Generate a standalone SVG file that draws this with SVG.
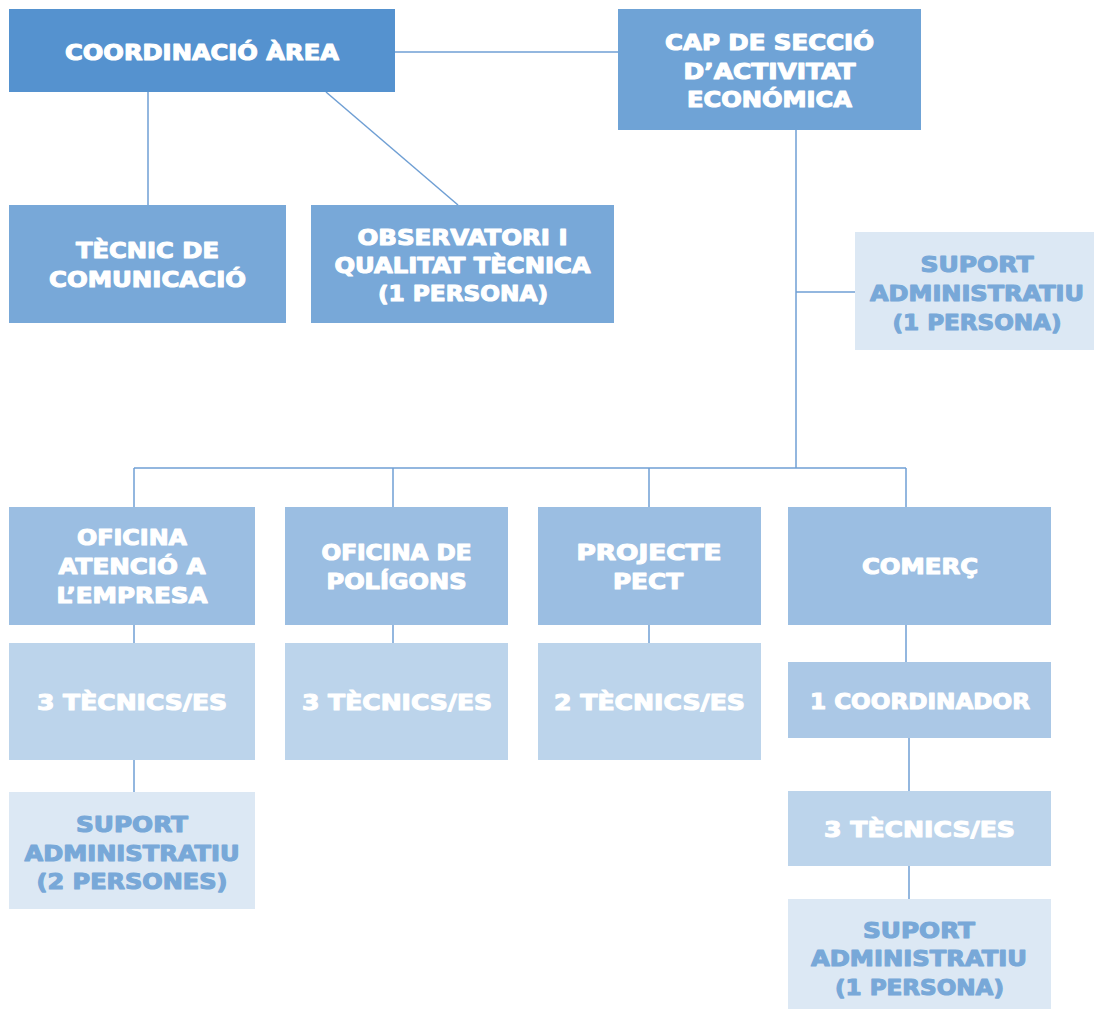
<svg xmlns="http://www.w3.org/2000/svg" width="1094" height="1010" viewBox="0 0 1094 1010">
<style>
text{font-family:"DejaVu Sans","Liberation Sans",sans-serif;font-weight:bold;font-size:21px;text-anchor:middle;fill:#ffffff;stroke:#ffffff;stroke-width:1.1;stroke-linejoin:round}
.light text{fill:#78a8d8;stroke:#78a8d8}
.conn line{stroke:#6f9fd4;stroke-width:1.5;fill:none}
</style>
<rect width="1094" height="1010" fill="#ffffff"/>
<g class="conn" id="connectors">
<line x1="395" y1="52" x2="618" y2="52"/>
<line x1="148" y1="92" x2="148" y2="205"/>
<line x1="326" y1="92" x2="458" y2="205"/>
<line x1="796" y1="130" x2="796" y2="468"/>
<line x1="796" y1="292" x2="855" y2="292"/>
<line x1="134" y1="468" x2="906" y2="468"/>
<line x1="134" y1="468" x2="134" y2="507"/>
<line x1="393" y1="468" x2="393" y2="507"/>
<line x1="649" y1="468" x2="649" y2="507"/>
<line x1="906" y1="468" x2="906" y2="507"/>
<line x1="134" y1="625" x2="134" y2="643"/>
<line x1="134" y1="760" x2="134" y2="792"/>
<line x1="393" y1="625" x2="393" y2="643"/>
<line x1="649" y1="625" x2="649" y2="643"/>
<line x1="906" y1="625" x2="906" y2="662"/>
<line x1="909" y1="738" x2="909" y2="791"/>
<line x1="909" y1="866" x2="909" y2="899"/>
</g>
<g id="coordinacio">
<rect x="9" y="9" width="386" height="83" fill="#5592cf"/>
<text x="202" y="60" textLength="274" lengthAdjust="spacingAndGlyphs">COORDINACIÓ ÀREA</text>
</g>
<g id="cap">
<rect x="618" y="9" width="303" height="121" fill="#6fa3d6"/>
<text x="769.5" y="50" textLength="209" lengthAdjust="spacingAndGlyphs">CAP DE SECCIÓ</text>
<text x="769.5" y="79" textLength="172" lengthAdjust="spacingAndGlyphs">D’ACTIVITAT</text>
<text x="769.5" y="107" textLength="165" lengthAdjust="spacingAndGlyphs">ECONÓMICA</text>
</g>
<g id="tecnic-comunicacio">
<rect x="9" y="205" width="277" height="118" fill="#78a8d8"/>
<text x="147.5" y="258" textLength="143" lengthAdjust="spacingAndGlyphs">TÈCNIC DE</text>
<text x="147.5" y="287" textLength="197" lengthAdjust="spacingAndGlyphs">COMUNICACIÓ</text>
</g>
<g id="observatori">
<rect x="311" y="205" width="303" height="118" fill="#78a8d8"/>
<text x="462.5" y="245" textLength="210" lengthAdjust="spacingAndGlyphs">OBSERVATORI I</text>
<text x="462.5" y="273" textLength="256" lengthAdjust="spacingAndGlyphs">QUALITAT TÈCNICA</text>
<text x="463" y="301" textLength="170" lengthAdjust="spacingAndGlyphs">(1 PERSONA)</text>
</g>
<g id="suport-cap" class="light">
<rect x="855" y="232" width="239" height="118" fill="#dce8f4"/>
<text x="977" y="272" textLength="113" lengthAdjust="spacingAndGlyphs">SUPORT</text>
<text x="977" y="301" textLength="214" lengthAdjust="spacingAndGlyphs">ADMINISTRATIU</text>
<text x="977" y="330" textLength="169" lengthAdjust="spacingAndGlyphs">(1 PERSONA)</text>
</g>
<g id="oficina-empresa">
<rect x="9" y="507" width="246" height="118" fill="#9bbee2"/>
<text x="132" y="545" textLength="110" lengthAdjust="spacingAndGlyphs">OFICINA</text>
<text x="132" y="574" textLength="147" lengthAdjust="spacingAndGlyphs">ATENCIÓ A</text>
<text x="132" y="603" textLength="151" lengthAdjust="spacingAndGlyphs">L’EMPRESA</text>
</g>
<g id="oficina-poligons">
<rect x="285" y="507" width="223" height="118" fill="#9bbee2"/>
<text x="396.5" y="560" textLength="150" lengthAdjust="spacingAndGlyphs">OFICINA DE</text>
<text x="396.5" y="589" textLength="140" lengthAdjust="spacingAndGlyphs">POLÍGONS</text>
</g>
<g id="projecte-pect">
<rect x="538" y="507" width="223" height="118" fill="#9bbee2"/>
<text x="649" y="560" textLength="145" lengthAdjust="spacingAndGlyphs">PROJECTE</text>
<text x="648" y="589" textLength="70" lengthAdjust="spacingAndGlyphs">PECT</text>
</g>
<g id="comerc">
<rect x="788" y="507" width="263" height="118" fill="#9bbee2"/>
<text x="920" y="574" textLength="116" lengthAdjust="spacingAndGlyphs">COMERÇ</text>
</g>
<g id="tecnics-empresa">
<rect x="9" y="643" width="246" height="117" fill="#bcd4eb"/>
<text x="132" y="710" textLength="190" lengthAdjust="spacingAndGlyphs">3 TÈCNICS/ES</text>
</g>
<g id="tecnics-poligons">
<rect x="285" y="643" width="223" height="117" fill="#bcd4eb"/>
<text x="397" y="710" textLength="190" lengthAdjust="spacingAndGlyphs">3 TÈCNICS/ES</text>
</g>
<g id="tecnics-pect">
<rect x="538" y="643" width="223" height="117" fill="#bcd4eb"/>
<text x="649.5" y="710" textLength="191" lengthAdjust="spacingAndGlyphs">2 TÈCNICS/ES</text>
</g>
<g id="coordinador-comerc">
<rect x="788" y="662" width="263" height="76" fill="#abc8e6"/>
<text x="920" y="709" textLength="220" lengthAdjust="spacingAndGlyphs">1 COORDINADOR</text>
</g>
<g id="tecnics-comerc">
<rect x="788" y="791" width="263" height="75" fill="#bcd4eb"/>
<text x="919.5" y="837" textLength="191" lengthAdjust="spacingAndGlyphs">3 TÈCNICS/ES</text>
</g>
<g id="suport-empresa" class="light">
<rect x="9" y="792" width="246" height="117" fill="#dce8f4"/>
<text x="132" y="832" textLength="112" lengthAdjust="spacingAndGlyphs">SUPORT</text>
<text x="132" y="861" textLength="215" lengthAdjust="spacingAndGlyphs">ADMINISTRATIU</text>
<text x="132" y="889" textLength="191" lengthAdjust="spacingAndGlyphs">(2 PERSONES)</text>
</g>
<g id="suport-comerc" class="light">
<rect x="788" y="899" width="263" height="110" fill="#dce8f4"/>
<text x="919" y="938" textLength="112" lengthAdjust="spacingAndGlyphs">SUPORT</text>
<text x="919" y="966" textLength="216" lengthAdjust="spacingAndGlyphs">ADMINISTRATIU</text>
<text x="919.5" y="995" textLength="169" lengthAdjust="spacingAndGlyphs">(1 PERSONA)</text>
</g>
</svg>
